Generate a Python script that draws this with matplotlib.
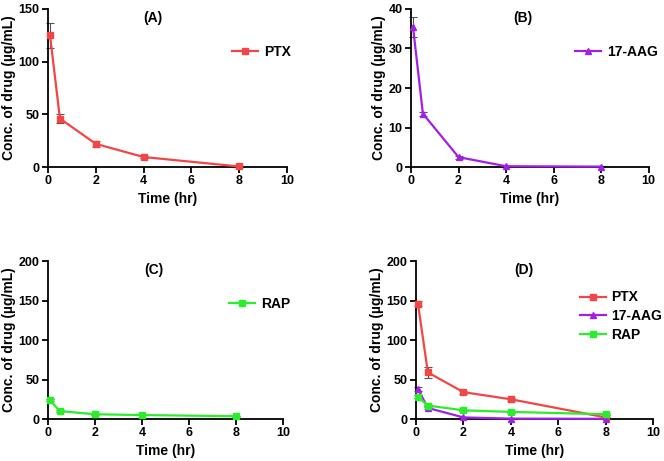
import matplotlib
matplotlib.use("Agg")
import matplotlib.pyplot as plt
import numpy as np

plt.rcParams['font.family'] = ['Liberation Sans', 'DejaVu Sans']
plt.rcParams['font.weight'] = 'bold'

### --------- DATA --------- ###
time_hr = [0.083, 0.5, 2, 4, 8]

ptx_a = [125, 46, 22, 9.5, 0.5]
ptx_a_err = [12, 4, 3, 1, 0.5]

aag_b = [35.5, 13.5, 2.5, 0.2, 0.1]
aag_b_err = [2.5, 0.5, 0.4, 0.1, 0.1]

rap_c = [24, 10, 6, 5, 3.5]
rap_c_err = [1.5, 1, 0.5, 0.5, 0.5]

ptx_d = [146, 59, 34, 25, 2]
ptx_d_err = [3, 7, 2, 2, 1]
aag_d = [38, 14, 2, 0.5, 0.2]
aag_d_err = [2, 1, 0.5, 0.2, 0.1]
rap_d = [28, 17, 11, 9, 6]
rap_d_err = [2, 1, 1, 1, 1]

RED = '#f24545'
PURPLE = '#a21fe6'
GREEN = '#29ee29'
ERR = '#555555'


def style_axes(ax, ymax, yticks, title, title_x):
    ax.set_xlim(0, 10)
    ax.set_ylim(0, ymax)
    ax.set_xticks([0, 2, 4, 6, 8, 10])
    ax.set_yticks(yticks)
    ax.spines['top'].set_visible(False)
    ax.spines['right'].set_visible(False)
    ax.spines['left'].set_linewidth(1.3)
    ax.spines['bottom'].set_linewidth(1.3)
    ax.tick_params(width=1.3, length=4, labelsize=9, pad=2)
    for lab in ax.get_xticklabels() + ax.get_yticklabels():
        lab.set_fontweight('bold')
    ax.set_xlabel('Time (hr)', fontsize=10, fontweight='bold', labelpad=3)
    ax.set_ylabel('Conc. of drug (µg/mL)', fontsize=10, fontweight='bold', labelpad=2)
    ax.text(title_x, 0.99, title, transform=ax.transAxes, ha='center', va='top',
            fontsize=10, fontweight='bold')


def draw(ax, y, err, color, marker, label):
    ax.errorbar(time_hr, y, yerr=err, fmt='none', ecolor=ERR, elinewidth=0.8,
                capsize=3, capthick=0.8, clip_on=False, zorder=2)
    ax.plot(time_hr, y, color=color, marker=marker, markersize=5,
            linewidth=1.6, label=label, clip_on=False, zorder=3)


def add_legend(ax, x, y):
    ax.legend(loc='center left', bbox_to_anchor=(x, y), frameon=False,
              borderpad=0, borderaxespad=0, handlelength=1.9, handletextpad=0.4,
              labelspacing=0.35, prop={'size': 10, 'weight': 'bold'})


fig = plt.figure(figsize=(6.64, 4.61), dpi=100)
ax_a = fig.add_axes([0.0723, 0.6377, 0.3597, 0.3428])
ax_b = fig.add_axes([0.619, 0.6377, 0.358, 0.3428])
ax_c = fig.add_axes([0.0723, 0.0911, 0.3537, 0.3427])
ax_d = fig.add_axes([0.6265, 0.0911, 0.357, 0.3427])

draw(ax_a, ptx_a, ptx_a_err, RED, 's', 'PTX')
style_axes(ax_a, 150, [0, 50, 100, 150], '(A)', 0.44)
add_legend(ax_a, 0.77, 0.73)

draw(ax_b, aag_b, aag_b_err, PURPLE, '^', '17-AAG')
style_axes(ax_b, 40, [0, 10, 20, 30, 40], '(B)', 0.47)
add_legend(ax_b, 0.69, 0.73)

draw(ax_c, rap_c, rap_c_err, GREEN, 's', 'RAP')
style_axes(ax_c, 200, [0, 50, 100, 150, 200], '(C)', 0.45)
add_legend(ax_c, 0.77, 0.73)

draw(ax_d, ptx_d, ptx_d_err, RED, 's', 'PTX')
draw(ax_d, aag_d, aag_d_err, PURPLE, '^', '17-AAG')
draw(ax_d, rap_d, rap_d_err, GREEN, 's', 'RAP')
style_axes(ax_d, 200, [0, 50, 100, 150, 200], '(D)', 0.456)
add_legend(ax_d, 0.69, 0.65)

fig.savefig('out.png', dpi=100)
